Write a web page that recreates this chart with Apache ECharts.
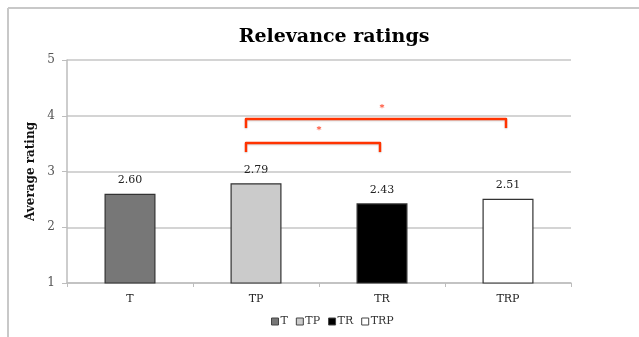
<!DOCTYPE html>
<html>
<head>
<meta charset="utf-8">
<script src="https://cdn.jsdelivr.net/npm/echarts@6/dist/echarts.min.js"></script>
<style>
  html, body { margin: 0; padding: 0; background: #fff; }
  #chart { width: 639px; height: 337px; }
</style>
</head>
<body>
<div id="chart"></div>
<script>
// Conditions and their mean relevance ratings
const categories = ['T', 'TP', 'TR', 'TRP'];
const ratings = [2.60, 2.79, 2.43, 2.51];
const barColors = ['#777777', '#cbcbcb', '#000000', '#ffffff'];

// Significance brackets: [from, to, bar level, leg end level]
const brackets = [
  ['TP', 'TRP', 3.94, 3.78],
  ['TP', 'TR', 3.51, 3.35]
];
// Star markers above each bracket: [from, to, level]
const stars = [
  ['TP', 'TRP', 4.13],
  ['TP', 'TR', 3.73]
];

const yTicks = { min: 1, max: 5, interval: 1 };

const serif = 'DejaVu Serif';
const chart = echarts.init(document.getElementById('chart'));

// One series per condition so each gets its own legend entry;
// barGap -100% keeps every bar centred on its own category.
const barSeries = categories.map((name, i) => ({
  name: name,
  type: 'bar',
  barWidth: 51,
  barGap: '-100%',
  data: categories.map((c, j) => (j === i ? ratings[i] : null)),
  itemStyle: { color: barColors[i], borderColor: '#333333', borderWidth: 1.2 },
  label: {
    show: true,
    position: 'top',
    distance: 8,
    formatter: p => p.value.toFixed(2),
    fontFamily: serif,
    fontSize: 11,
    color: '#222222'
  },
  emphasis: { disabled: true }
}));

const bracketSeries = {
  type: 'custom',
  silent: true,
  z: 10,
  data: brackets,
  renderItem: (params, api) => {
    const a = api.coord([api.value(0), api.value(2)]);
    const b = api.coord([api.value(1), api.value(2)]);
    const legY = api.coord([api.value(0), api.value(3)])[1];
    const x1 = a[0] - 10, x2 = b[0] - 2, y = a[1];
    return {
      type: 'polyline',
      shape: { points: [[x1, legY], [x1, y], [x2, y], [x2, legY]] },
      style: {
        fill: null,
        stroke: '#ff3300',
        lineWidth: 2.5,
        lineJoin: 'round',
        shadowBlur: 1.5,
        shadowColor: 'rgba(0,0,0,0.18)',
        shadowOffsetY: 1
      }
    };
  },
  encode: { x: [0, 1], y: [2, 3] }
};

const starSeries = {
  type: 'custom',
  silent: true,
  z: 10,
  data: stars,
  renderItem: (params, api) => {
    const a = api.coord([api.value(0), api.value(2)]);
    const b = api.coord([api.value(1), api.value(2)]);
    return {
      type: 'text',
      style: {
        x: (a[0] + b[0]) / 2,
        y: a[1],
        text: '*',
        fill: '#ff2200',
        font: '10px ' + serif,
        align: 'center',
        verticalAlign: 'middle'
      }
    };
  },
  encode: { x: [0, 1], y: 2 }
};

chart.setOption({
  animation: false,
  backgroundColor: '#ffffff',
  title: {
    text: 'Relevance ratings',
    left: 329,
    top: 23,
    textAlign: 'center',
    textStyle: { fontFamily: serif, fontWeight: 'bold', fontSize: 19, color: '#000000' }
  },
  legend: {
    data: categories,
    left: 266,
    top: 311,
    itemWidth: 7,
    itemHeight: 7,
    itemGap: 8,
    icon: 'rect',
    textStyle: { fontFamily: serif, fontSize: 11, color: '#333333', padding: [0, 0, 0, -3] },
    itemStyle: { borderColor: '#444444', borderWidth: 1 }
  },
  grid: { left: 67, right: 68, top: 60, bottom: 54 },
  xAxis: {
    type: 'category',
    data: categories,
    axisLine: { lineStyle: { color: '#bdbdbd', width: 1.5 } },
    axisTick: { show: true, length: 4, lineStyle: { color: '#bdbdbd' } },
    axisLabel: { margin: 11, fontFamily: serif, fontSize: 11, color: '#222222' }
  },
  yAxis: {
    type: 'value',
    min: yTicks.min,
    max: yTicks.max,
    interval: yTicks.interval,
    name: 'Average rating',
    nameLocation: 'middle',
    nameGap: 21,
    nameTextStyle: { fontFamily: serif, fontSize: 12, fontWeight: 'bold', color: '#111111' },
    axisLine: { show: true, lineStyle: { color: '#bdbdbd', width: 1.5 } },
    axisTick: { show: true, length: 5, lineStyle: { color: '#bdbdbd' } },
    axisLabel: { margin: 12, fontFamily: serif, fontSize: 12, color: '#555555' },
    splitLine: { lineStyle: { color: '#c6c6c6', width: 1.5 } }
  },
  graphic: [
    { type: 'line', shape: { x1: 8, y1: 8, x2: 639, y2: 8 }, style: { stroke: '#c8c8c8', lineWidth: 2 } },
    { type: 'line', shape: { x1: 8, y1: 8, x2: 8, y2: 337 }, style: { stroke: '#c8c8c8', lineWidth: 2 } }
  ],
  series: [...barSeries, bracketSeries, starSeries]
});
</script>
</body>
</html>
